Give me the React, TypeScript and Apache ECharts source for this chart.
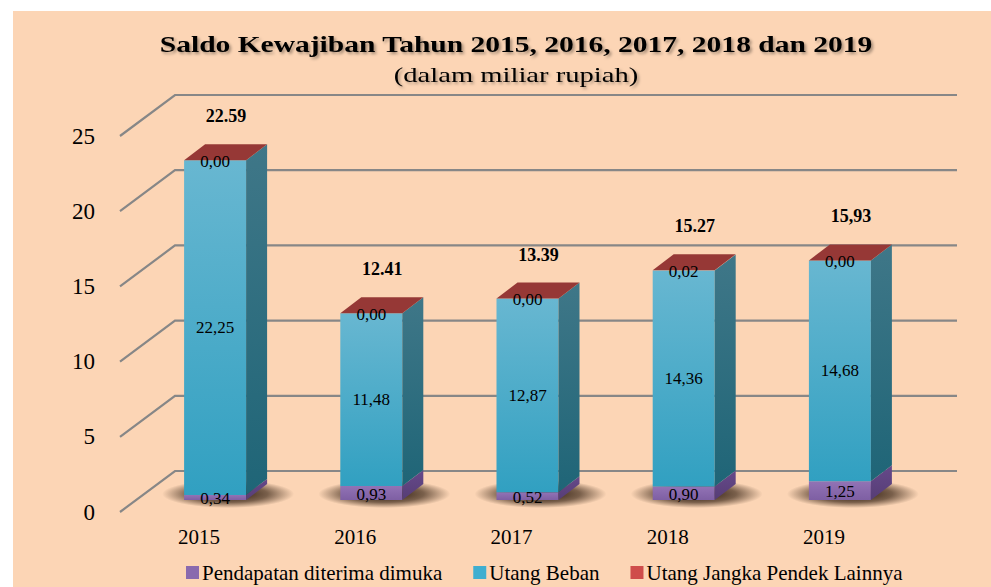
import React, { useEffect, useRef } from "react";
import * as echarts from "echarts";

const categories = ["2015", "2016", "2017", "2018", "2019"];
const pendapatan = [0.34, 0.93, 0.52, 0.9, 1.25];
const utangBeban = [22.25, 11.48, 12.87, 14.36, 14.68];
const utangLain = [0.0, 0.0, 0.0, 0.02, 0.0];
const totalLabels = ["22.59", "12.41", "13.39", "15.27", "15,93"];
const yTicks = [0, 5, 10, 15, 20, 25];
const seriesNames = ["Pendapatan diterima dimuka", "Utang Beban", "Utang Jangka Pendek Lainnya"];
const titleText = "Saldo Kewajiban Tahun 2015, 2016, 2017, 2018 dan 2019";
const subtitleText = "(dalam miliar rupiah)";

const FONT = "Liberation Serif";
const DX = 55; // back wall offset
const DY = -41;
const FX = 16; // bar front offset from front plane
const FY = -12;
const BX = 21; // bar depth
const BY = -16;
const W = 62; // bar width

const fmt = (v: number) => v.toFixed(2).replace(".", ",");

const grad = (a: string, b: string) =>
  new echarts.graphic.LinearGradient(0, 0, 0, 1, [
    { offset: 0, color: a },
    { offset: 1, color: b },
  ]);

function box(xl: number, yTop: number, yBot: number, front: any, side: any) {
  const xr = xl + W;
  return [
    {
      type: "rect",
      shape: { x: xl, y: yTop, width: W, height: Math.max(yBot - yTop, 0) },
      style: { fill: front },
    },
    {
      type: "polygon",
      shape: {
        points: [
          [xr, yBot],
          [xr + BX, yBot + BY],
          [xr + BX, yTop + BY],
          [xr, yTop],
        ],
      },
      style: { fill: side },
    },
  ];
}

function txt(text: string, x: number, y: number, size: number, bold = false) {
  return {
    type: "text",
    z2: 10,
    style: {
      text,
      x,
      y,
      fill: "#000",
      fontSize: size,
      fontFamily: FONT,
      fontWeight: bold ? "bold" : "normal",
      align: "center",
      verticalAlign: "middle",
      textAlign: "center",
      textVerticalAlign: "middle",
    },
  };
}

export default function App() {
  const ref = useRef<HTMLDivElement>(null);
  useEffect(() => {
    if (!ref.current) return;
    const chart = echarts.init(ref.current, null, { renderer: "svg" });
    const option: any = {
      animation: false,
      backgroundColor: "#FCD5B5",
      textStyle: { fontFamily: FONT },
      grid: { left: 121, top: 136, width: 781, height: 376, containLabel: false },
      xAxis: {
        type: "category",
        data: categories,
        axisLine: { show: false },
        axisTick: { show: false },
        axisLabel: { fontSize: 21, fontFamily: FONT, color: "#000", margin: 14 },
      },
      yAxis: {
        type: "value",
        min: 0,
        max: 25,
        interval: 5,
        axisLine: { show: false },
        axisTick: { show: false },
        splitLine: { show: false },
        axisLabel: { fontSize: 23, fontFamily: FONT, color: "#000", margin: 26 },
      },
      legend: {
        left: 181,
        top: 557,
        icon: "rect",
        itemWidth: 13,
        itemHeight: 13,
        itemGap: 31,
        textStyle: { fontSize: 21, fontFamily: FONT, color: "#000", padding: [0, 0, 0, -2] },
        data: seriesNames,
      },
      graphic: [
        { type: "rect", shape: { x: 0, y: 0, width: 13, height: 587 }, style: { fill: "#fff" } },
        { type: "rect", shape: { x: 0, y: 0, width: 991, height: 11 }, style: { fill: "#fff" } },
        {
          type: "group",
          x: 516,
          y: 44,
          scaleX: 1.23,
          children: [
            {
              type: "text",
              style: {
                text: titleText,
                x: 0,
                y: 0,
                fill: "#000",
                fontSize: 24,
                fontWeight: "bold",
                fontFamily: FONT,
                align: "center",
                verticalAlign: "middle",
                textAlign: "center",
                textVerticalAlign: "middle",
                textShadowColor: "rgba(0,0,0,0.35)",
                textShadowBlur: 3,
                textShadowOffsetX: 2,
                textShadowOffsetY: 2,
              },
            },
          ],
        },
        {
          type: "group",
          x: 516,
          y: 75,
          scaleX: 1.3,
          children: [
            {
              type: "text",
              style: {
                text: subtitleText,
                x: 0,
                y: 0,
                fill: "#000",
                fontSize: 22,
                fontFamily: FONT,
                align: "center",
                verticalAlign: "middle",
                textAlign: "center",
                textVerticalAlign: "middle",
                textShadowColor: "rgba(0,0,0,0.3)",
                textShadowBlur: 3,
                textShadowOffsetX: 2,
                textShadowOffsetY: 2,
              },
            },
          ],
        },
      ],
      series: [
        { name: seriesNames[0], type: "bar", data: [], itemStyle: { color: "#8A6AAE" } },
        { name: seriesNames[1], type: "bar", data: [], itemStyle: { color: "#3FAED0" } },
        { name: seriesNames[2], type: "bar", data: [], itemStyle: { color: "#CF4D4B" } },
        {
          type: "custom",
          z: 1,
          clip: false,
          silent: true,
          data: yTicks.map((v) => [0, v]),
          encode: { x: 0, y: 1 },
          renderItem: (params: any, api: any) => {
            const cs = params.coordSys;
            const y = api.coord([0, api.value(1)])[1];
            const x0 = cs.x - 1;
            const x1 = cs.x + cs.width;
            return {
              type: "polyline",
              shape: {
                points: [
                  [x0, y],
                  [x0 + DX, y + DY],
                  [x1 + DX, y + DY],
                ],
              },
              style: {
                stroke: "#878787",
                lineWidth: 2.2,
                fill: "none",
              },
            };
          },
        },
        {
          type: "custom",
          z: 3,
          clip: false,
          silent: true,
          data: categories.map((c, i) => [i, pendapatan[i], utangBeban[i], utangLain[i], i]),
          encode: { x: 0, y: 1 },
          renderItem: (params: any, api: any) => {
            const idx = api.value(0);
            const p = api.value(1);
            const b = api.value(2);
            const r = api.value(3);
            const c0 = api.coord([idx, 0]);
            const cx = c0[0] + FX;
            const y0 = c0[1] + FY;
            const yP = api.coord([idx, p])[1] + FY;
            const yB = api.coord([idx, p + b])[1] + FY;
            const yR = api.coord([idx, p + b + r])[1] + FY;
            const xl = cx - W / 2;
            const xr = cx + W / 2;
            const children: any[] = [];
            children.push({
              type: "ellipse",
              shape: { cx: cx + 13, cy: y0 - 6, rx: 66, ry: 14 },
              style: {
                fill: new echarts.graphic.RadialGradient(0.5, 0.5, 0.5, [
                  { offset: 0, color: "rgba(35,18,5,1)" },
                  { offset: 0.6, color: "rgba(35,18,5,0.6)" },
                  { offset: 1, color: "rgba(35,18,5,0)" },
                ]),
              },
            });
            children.push(...box(xl, yP, y0, grad("#9273B5", "#7E5FA3"), grad("#66498A", "#563D75")));
            children.push(...box(xl, yB, yP, grad("#68B7D1", "#31A0C1"), grad("#3F7788", "#1F6577")));
            if (yB - yR > 0.5) {
              children.push(...box(xl, yR, yB, grad("#C0504D", "#A33F3C"), grad("#7A2D2B", "#6A2624")));
            }
            children.push({
              type: "polygon",
              shape: {
                points: [
                  [xl, yR],
                  [xr, yR],
                  [xr + BX, yR + BY],
                  [xl + BX, yR + BY],
                ],
              },
              style: { fill: "#963836" },
            });
            children.push(txt(fmt(p), cx, (y0 + yP) / 2 + 1, 17));
            children.push(txt(fmt(b), cx, (yP + yB) / 2, 17));
            children.push(txt(fmt(r), cx, yR + 1, 17));
            children.push(txt(totalLabels[api.value(4)], cx + 11, yR - 44, 18, true));
            return { type: "group", children };
          },
        },
      ],
    };
    chart.setOption(option);
    return () => chart.dispose();
  }, []);
  return (
    <div
      ref={ref}
      style={{ position: "absolute", left: 0, top: 0, width: 991, height: 587 }}
    />
  );
}
